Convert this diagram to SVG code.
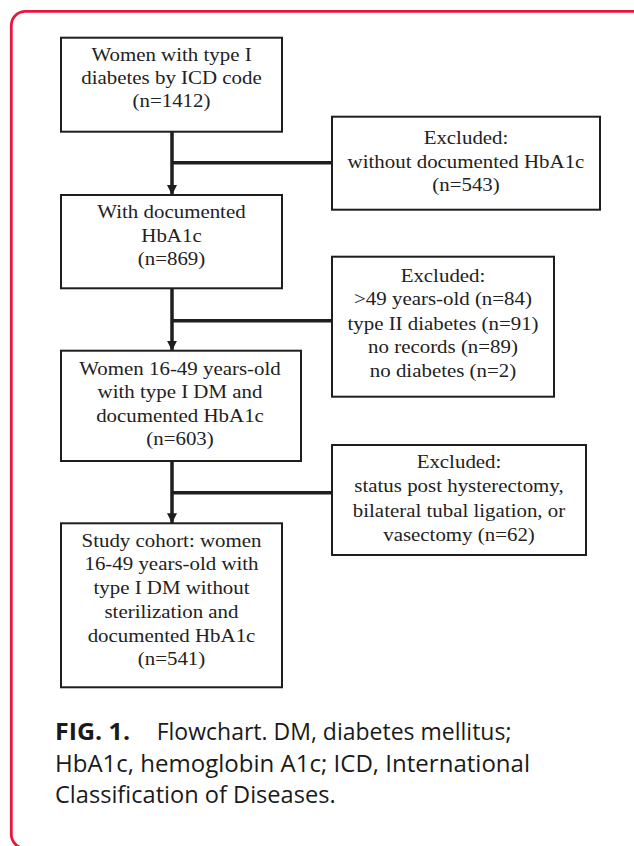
<svg xmlns="http://www.w3.org/2000/svg" width="634" height="846" viewBox="0 0 634 846">
<defs>
<style>
.frame{fill:none;stroke:#e4173e;stroke-width:2.8}
.box{fill:#fff;stroke:#1e1e1e;stroke-width:2}
.t{font-family:"Liberation Serif","Times New Roman",serif;font-size:19px;fill:#222;text-anchor:middle}
.ln{fill:none;stroke:#1e1e1e;stroke-width:3.5}
.cap{font-family:"Open Sans","Noto Sans",sans-serif;font-size:23.5px;fill:#1a1a1a}
.capb{font-family:"Open Sans","Noto Sans",sans-serif;font-size:23.5px;font-weight:bold;fill:#1a1a1a}
</style>
<marker id="ah" viewBox="0 0 10 10" refX="10" refY="5" markerWidth="10" markerHeight="10" markerUnits="userSpaceOnUse" orient="auto">
<path d="M0,0 L10,5 L0,10 Z" fill="#1e1e1e"/>
</marker>
</defs>
<rect width="634" height="846" fill="#fff"/>
<rect class="frame" x="11.3" y="11.3" width="720" height="837" rx="14"/>

<g id="connectors">
<line class="ln" x1="172" y1="131.7" x2="172" y2="195" marker-end="url(#ah)"/>
<line class="ln" x1="172" y1="162.7" x2="332" y2="162.7"/>
<line class="ln" x1="172" y1="288.3" x2="172" y2="350.7" marker-end="url(#ah)"/>
<line class="ln" x1="172" y1="320.7" x2="332" y2="320.7"/>
<line class="ln" x1="172" y1="461" x2="172" y2="523.3" marker-end="url(#ah)"/>
<line class="ln" x1="172" y1="492.7" x2="332" y2="492.7"/>
</g>

<g id="n1">
<rect class="box" x="61" y="37.7" width="221" height="94"/>
<text class="t" transform="translate(171.5 0) scale(1.1 1)"><tspan x="0" y="61.5">Women with type I</tspan><tspan x="0" y="84.5">diabetes by ICD code</tspan><tspan x="0" y="107.5">(n=1412)</tspan></text>
</g>

<g id="x1">
<rect class="box" x="332" y="116.7" width="268" height="93"/>
<text class="t" transform="translate(466 0) scale(1.1 1)"><tspan x="0" y="144">Excluded:</tspan><tspan x="0" y="168">without documented HbA1c</tspan><tspan x="0" y="191.5">(n=543)</tspan></text>
</g>

<g id="n2">
<rect class="box" x="61" y="195" width="221" height="93.3"/>
<text class="t" transform="translate(171.5 0) scale(1.1 1)"><tspan x="0" y="218.3">With documented</tspan><tspan x="0" y="241.7">HbA1c</tspan><tspan x="0" y="265">(n=869)</tspan></text>
</g>

<g id="x2">
<rect class="box" x="332" y="256.7" width="222" height="140"/>
<text class="t" transform="translate(443 0) scale(1.1 1)"><tspan x="0" y="281.7">Excluded:</tspan><tspan x="0" y="305.3">&gt;49 years-old (n=84)</tspan><tspan x="0" y="329.7">type II diabetes (n=91)</tspan><tspan x="0" y="353.3">no records (n=89)</tspan><tspan x="0" y="376.7">no diabetes (n=2)</tspan></text>
</g>

<g id="n3">
<rect class="box" x="61" y="350.7" width="240" height="110.3"/>
<text class="t" transform="translate(180 0) scale(1.1 1)"><tspan x="0" y="375">Women 16-49 years-old</tspan><tspan x="0" y="398.3">with type I DM and</tspan><tspan x="0" y="421.7">documented HbA1c</tspan><tspan x="0" y="445">(n=603)</tspan></text>
</g>

<g id="x3">
<rect class="box" x="332" y="445" width="254" height="110"/>
<text class="t" transform="translate(459 0) scale(1.1 1)"><tspan x="0" y="468.3">Excluded:</tspan><tspan x="0" y="492.5">status post hysterectomy,</tspan><tspan x="0" y="516.7">bilateral tubal ligation, or</tspan><tspan x="0" y="540.8">vasectomy (n=62)</tspan></text>
</g>

<g id="n4">
<rect class="box" x="61" y="523.3" width="221" height="164"/>
<text class="t" transform="translate(171.5 0) scale(1.1 1)"><tspan x="0" y="546.7">Study cohort: women</tspan><tspan x="0" y="570.5">16-49 years-old with</tspan><tspan x="0" y="594.2">type I DM without</tspan><tspan x="0" y="618">sterilization and</tspan><tspan x="0" y="641.7">documented HbA1c</tspan><tspan x="0" y="665.4">(n=541)</tspan></text>
</g>

<g id="caption">
<text class="capb" x="55" y="740" textLength="75" lengthAdjust="spacingAndGlyphs">FIG. 1.</text>
<text class="cap" x="156.7" y="740" textLength="354.8" lengthAdjust="spacingAndGlyphs">Flowchart. DM, diabetes mellitus;</text>
<text class="cap" x="55" y="771.5" textLength="475" lengthAdjust="spacingAndGlyphs">HbA1c, hemoglobin A1c; ICD, International</text>
<text class="cap" x="55" y="803" textLength="280.6" lengthAdjust="spacingAndGlyphs">Classification of Diseases.</text>
</g>
</svg>
